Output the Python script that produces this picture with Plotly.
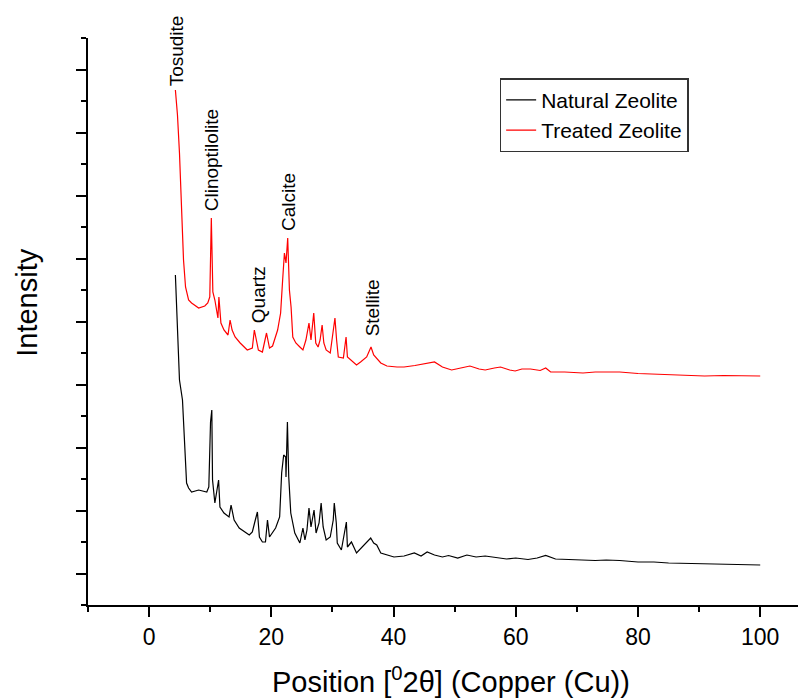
import plotly.graph_objects as go

# 2-theta positions (degrees) and intensities (arbitrary counts)
natural_x = [4.30, 4.97, 5.46, 5.63, 5.79, 5.96, 6.13, 6.46, 6.95, 8.11, 9.44, 9.77, 10.05, 10.26, 10.38,
             10.76, 11.37, 11.59, 12.25, 13.08, 13.41, 13.91, 14.74, 16.39, 16.89, 17.38, 17.72, 18.05,
             18.54, 19.04, 19.37, 19.70, 20.20, 20.70, 21.36, 21.69, 22.02, 22.35, 22.40, 22.63, 22.85,
             23.18, 23.84, 24.67, 25.17, 25.50, 25.83, 26.16, 26.49, 26.99, 27.32, 27.81, 28.15, 28.48,
             28.97, 29.64, 30.13, 30.30, 30.63, 30.79, 31.46, 32.28, 32.45, 33.11, 33.94, 34.77, 35.60,
             36.26, 36.75, 37.25, 37.91, 38.91, 40.07, 41.72, 43.4, 44.5, 45.5, 46.7, 48.0, 49.0, 50.5,
             52.0, 53.5, 55.0, 57.0, 58.5, 60.0, 62.0, 63.5, 64.9, 66.5, 68.5, 71.0, 73.0, 74.8, 77.0,
             80.0, 82.6, 85.0, 88.1, 90.5, 93.0, 96.0, 100.0]
natural_y = [3300, 2250, 2050, 1820, 1580, 1380, 1220, 1170, 1130, 1150, 1130, 1180, 1830, 1950, 1250,
             1020, 1250, 980, 920, 880, 1000, 850, 770, 700, 730, 850, 930, 680,
             630, 630, 850, 680, 720, 770, 880, 1320, 1500, 1480, 1280, 1830, 1280,
             920, 720, 620, 770, 650, 750, 970, 780, 950, 720, 820, 1020, 780,
             650, 680, 850, 1020, 820, 620, 550, 830, 580, 630, 520, 570, 620,
             670, 620, 600, 520, 500, 480, 490, 520, 490, 530, 500, 480, 495, 470,
             500, 480, 490, 475, 460, 470, 455, 470, 495, 460, 455, 450, 445, 450, 445,
             430, 430, 420, 415, 410, 405, 400, 400]

treated_x = [4.30, 4.64, 4.97, 5.30, 5.63, 5.96, 6.46, 6.95, 8.11, 9.11, 9.60, 9.93, 10.18, 10.43,
             10.76, 11.26, 11.42, 11.75, 12.25, 12.91, 13.25, 13.58, 14.07, 14.90, 16.06, 16.89, 17.22,
             17.55, 17.88, 18.54, 19.21, 19.70, 20.20, 21.03, 21.52, 21.85, 22.14, 22.40, 22.68, 22.96,
             23.23, 23.51, 24.01, 24.67, 25.17, 25.66, 26.16, 26.49, 26.94, 27.27, 27.65, 27.98, 28.31,
             28.59, 28.97, 29.64, 30.13, 30.41, 30.68, 30.96, 31.79, 32.23, 32.45, 32.95, 33.44, 33.94,
             34.60, 35.60, 36.31, 36.75, 37.91, 38.91, 40.56, 41.72, 43.5, 45.4, 46.7, 48.0, 49.5,
             51.0, 52.5, 54.0, 55.0, 56.5, 57.5, 59.0, 59.9, 61.0, 62.4, 64.0, 64.9, 65.7, 68.0,
             71.0, 73.0, 74.8, 77.0, 80.0, 82.6, 85.0, 88.1, 90.9, 94.0, 97.0, 100.0]
treated_y = [5150, 4900, 4520, 3880, 3450, 3180, 3050, 3020, 2970, 2990, 3020, 3080, 3870, 3130,
             3050, 2870, 3080, 2820, 2750, 2700, 2850, 2750, 2680, 2620, 2550, 2570, 2750,
             2650, 2550, 2530, 2720, 2570, 2590, 2750, 2920, 3250, 3520, 3420, 3670, 3150,
             2980, 2680, 2620, 2580, 2550, 2650, 2820, 2650, 2920, 2620, 2580, 2650, 2800,
             2620, 2550, 2520, 2750, 2870, 2650, 2480, 2470, 2680, 2480, 2450, 2420, 2400,
             2430, 2480, 2580, 2500, 2420, 2390, 2380, 2380, 2395, 2420, 2430, 2380, 2350,
             2370, 2390, 2360, 2350, 2370, 2380, 2350, 2340, 2360, 2360, 2345, 2370, 2330, 2330,
             2320, 2330, 2330, 2330, 2315, 2310, 2305, 2300, 2290, 2295, 2290, 2290]

peak_labels = ["Tosudite", "Clinoptilolite", "Quartz", "Calcite", "Stellite"]
peak_x = [4.46, 10.17, 17.85, 22.73, 36.53]
peak_y = [5540, 4450, 3100, 4030, 2970]

x_ticks = [0, 20, 40, 60, 80, 100]

FONT = "Arial, 'Liberation Sans', sans-serif"

fig = go.Figure()
fig.add_trace(go.Scatter(x=natural_x, y=natural_y, mode="lines", name="Natural Zeolite",
                         line=dict(color="black", width=1.2)))
fig.add_trace(go.Scatter(x=treated_x, y=treated_y, mode="lines", name="Treated Zeolite",
                         line=dict(color="#ff0000", width=1.2)))

for lab, px, py in zip(peak_labels, peak_x, peak_y):
    fig.add_annotation(x=px, y=py, text=lab, textangle=-90, showarrow=False,
                       xanchor="center", yanchor="middle",
                       font=dict(family=FONT, size=19, color="black"))

fig.add_annotation(xref="paper", yref="paper", x=-0.084, y=0.533, text="Intensity",
                   textangle=-90, showarrow=False, xanchor="center", yanchor="middle",
                   font=dict(family=FONT, size=29, color="black"))
fig.add_annotation(xref="paper", yref="paper", x=0.5, y=-0.132,
                   text="Position [<sup>0</sup>2θ] (Copper (Cu))",
                   showarrow=False, xanchor="center", yanchor="middle",
                   font=dict(family=FONT, size=29, color="black"))

fig.update_layout(
    width=806, height=698,
    margin=dict(l=79.5, r=0, t=30, b=101),
    paper_bgcolor="white", plot_bgcolor="white",
    font=dict(family=FONT, color="black"),
    showlegend=True,
    legend=dict(x=0.567, y=0.929, xanchor="left", yanchor="top",
                bgcolor="white", bordercolor="#333333", borderwidth=1.5,
                font=dict(family=FONT, size=21, color="black"),
                tracegroupgap=0),
    xaxis=dict(range=[-10, 108.8], showgrid=False, zeroline=False,
               showline=True, linecolor="black", linewidth=2,
               tickmode="array", tickvals=x_ticks, ticks="outside", ticklen=10, tickwidth=2,
               tickcolor="black", tickfont=dict(family=FONT, size=23, color="black"),
               minor=dict(tickmode="linear", tick0=-10, dtick=10, ticks="outside",
                          ticklen=5, tickwidth=2, tickcolor="black")),
    yaxis=dict(range=[0, 5670], showgrid=False, zeroline=False,
               showline=True, linecolor="black", linewidth=2,
               tickmode="linear", tick0=315, dtick=630, ticks="outside", ticklen=10, tickwidth=2,
               tickcolor="black", showticklabels=False,
               minor=dict(tickmode="linear", tick0=0, dtick=315, ticks="outside",
                          ticklen=5, tickwidth=2, tickcolor="black")),
)

fig.write_html("out.html")
